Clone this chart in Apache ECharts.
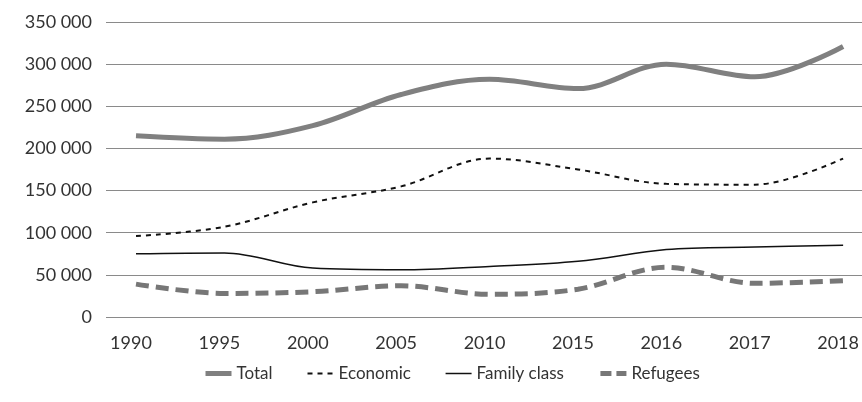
<!DOCTYPE html>
<html>
<head>
<meta charset="utf-8">
<script src="https://cdn.jsdelivr.net/npm/echarts@6/dist/echarts.min.js"></script>
<style>
  html, body { margin: 0; padding: 0; background: #fff; }
  #chart { width: 862px; height: 402px; }
</style>
</head>
<body>
<div id="chart"></div>
<script>
// years on the x axis
const years = ['1990', '1995', '2000', '2005', '2010', '2015', '2016', '2017', '2018'];

// admissions by category
const total = [215000, 211000, 227000, 264000, 282000, 271000, 300000, 285000, 321000];
const economic = [96000, 107000, 136000, 155000, 188000, 175000, 158000, 157000, 188000];
const familyClass = [75000, 76000, 58000, 56000, 60000, 66000, 80000, 83000, 85000];
const refugees = [39000, 28000, 30000, 37000, 27000, 33000, 59000, 40000, 43000];

const fontFamily = 'Lato, "Open Sans", sans-serif';

function fmt(v) {
  return String(v).replace(/\B(?=(\d{3})+(?!\d))/g, ' ');
}

let chart = echarts.init(document.getElementById('chart'));

let option = {
  animation: false,
  legend: {
    bottom: 15,
    left: 198,
    itemWidth: 26,
    itemHeight: 10,
    itemGap: 34,
    itemStyle: { opacity: 0 },
    textStyle: { fontFamily: fontFamily, fontSize: 17, color: '#333' },
    data: [
      { name: 'Total', lineStyle: { width: 5 } },
      { name: 'Economic', lineStyle: { width: 2, type: [5, 5] } },
      { name: 'Family class', lineStyle: { width: 1.5 } },
      { name: 'Refugees', lineStyle: { width: 5, type: [11, 5] } }
    ]
  },
  grid: [
    // background grid with y labels and split lines
    { left: 106, right: 0, top: 22, bottom: 85 },
    // data grid
    { left: 136, right: 17, top: 22, bottom: 85 }
  ],
  xAxis: [
    { type: 'category', gridIndex: 0, data: years, show: false },
    {
      type: 'category', gridIndex: 1, data: years, boundaryGap: false,
      axisLine: { show: false }, axisTick: { show: false },
      axisLabel: { fontFamily: fontFamily, fontSize: 18, color: '#333', margin: 17,
                   padding: [0, 10, 0, 0] }
    }
  ],
  yAxis: [
    {
      type: 'value', gridIndex: 0, min: 0, max: 350000, interval: 50000,
      axisLine: { show: false }, axisTick: { show: false },
      axisLabel: { fontFamily: fontFamily, fontSize: 18, color: '#333', margin: 14,
                   formatter: fmt },
      splitLine: { lineStyle: { color: '#8a8a8a', width: 1 } }
    },
    {
      type: 'value', gridIndex: 1, min: 0, max: 350000, interval: 50000,
      show: false, splitLine: { show: false }
    }
  ],
  series: [
    {
      name: 'Total', type: 'line', xAxisIndex: 1, yAxisIndex: 1, data: total,
      smooth: 0.35, symbol: 'none',
      lineStyle: { color: '#808080', width: 5 }, itemStyle: { color: '#808080' }
    },
    {
      name: 'Economic', type: 'line', xAxisIndex: 1, yAxisIndex: 1, data: economic,
      smooth: 0.35, symbol: 'none',
      lineStyle: { color: '#111', width: 2, type: [5, 5] }, itemStyle: { color: '#111' }
    },
    {
      name: 'Family class', type: 'line', xAxisIndex: 1, yAxisIndex: 1, data: familyClass,
      smooth: 0.35, symbol: 'none',
      lineStyle: { color: '#111', width: 1.5 }, itemStyle: { color: '#111' }
    },
    {
      name: 'Refugees', type: 'line', xAxisIndex: 1, yAxisIndex: 1, data: refugees,
      smooth: 0.35, symbol: 'none',
      lineStyle: { color: '#777', width: 5, type: [13, 7] }, itemStyle: { color: '#777' }
    }
  ]
};

chart.setOption(option);
</script>
</body>
</html>
